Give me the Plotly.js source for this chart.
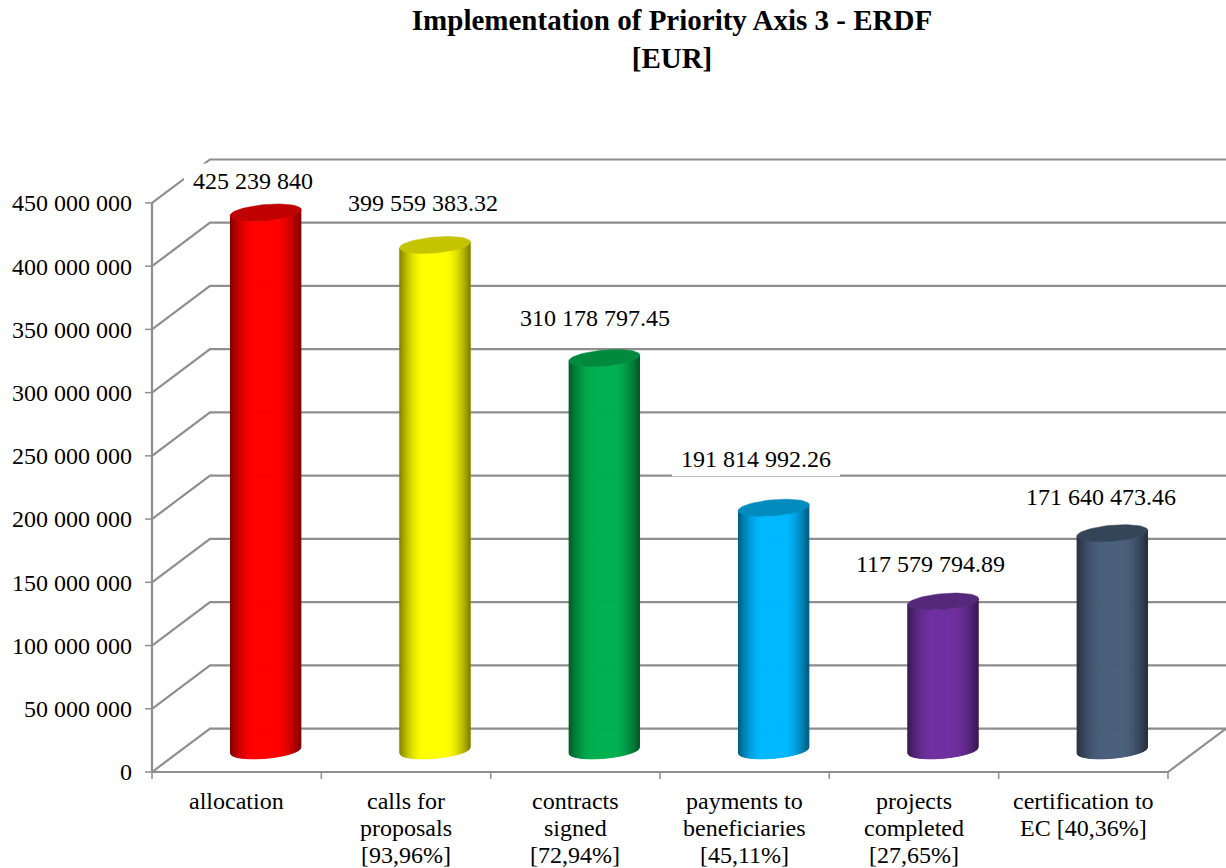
<!DOCTYPE html>
<html>
<head>
<meta charset="utf-8">
<script src="https://cdn.plot.ly/plotly-3.0.1.min.js"></script>
<style>html,body{margin:0;padding:0;background:#fff;overflow:hidden}#chart{width:1226px;height:868px}</style>
</head>
<body>
<div id="chart"></div>
<script>
// ---- data ----
const categoryLines = [
  ['allocation'],
  ['calls for', 'proposals', '[93,96%]'],
  ['contracts', 'signed', '[72,94%]'],
  ['payments to', 'beneficiaries', '[45,11%]'],
  ['projects', 'completed', '[27,65%]'],
  ['certification to', 'EC [40,36%]']
];
const values = [425239840, 399559383.32, 310178797.45, 191814992.26, 117579794.89, 171640473.46];
const valueLabels = ['425 239 840', '399 559 383.32', '310 178 797.45', '191 814 992.26', '117 579 794.89', '171 640 473.46'];
const tickValues = [0, 50000000, 100000000, 150000000, 200000000, 250000000, 300000000, 350000000, 400000000, 450000000];
const tickLabels = ['0', '50 000 000', '100 000 000', '150 000 000', '200 000 000', '250 000 000', '300 000 000', '350 000 000', '400 000 000', '450 000 000'];
const sideColors = [[255, 0, 0], [255, 255, 0], [0, 176, 80], [0, 184, 255], [112, 48, 160], [74, 96, 124]];
const capColors = ['#c00000', '#c4c400', '#008a3e', '#008cbf', '#55287c', '#344558'];

// ---- layout constants ----
const W = 1226, H = 868, L0 = 152, B0 = 772.5;          // origin of the front plane
const padL = 8, padB = 9, T = 155;                       // plot area reaches a little past the axes
const pxPerCat = 1016 / 6, pxPerVal = 63.28 / 50000000;
const xr = px => px / pxPerCat, yr = px => px / pxPerVal;
const depthX = xr(58), depthY = yr(43.5);
const xMax = (W - L0) / pxPerCat, yMax = (B0 - T) / pxPerVal;
const gridColor = '#8e8e8e', FONT = '"Liberation Serif","Times New Roman",serif', fs = 24;
const labelShift = [[16.3, 53.3], [17, 63.8], [19.7, 61.9], [11.3, 70.7], [16, 59.7], [17.7, 58.3]];
const labelBoxWidth = [138, 168, 168, 168, 168, 168];

const traces = [];
const line = (x, y, color, width) => ({
  type: 'scatter', mode: 'lines', x, y, cliponaxis: false, hoverinfo: 'skip', showlegend: false,
  line: { color, width, simplify: false }
});

// walls, floor and tick marks
const gx = [], gy = [];
tickValues.forEach(v => {
  gx.push(0, depthX, xMax, null);
  gy.push(v, v + depthY, v + depthY, null);
});
traces.push(line(gx, gy, gridColor, 2.2));
traces.push(line([0, 0], [0, tickValues[tickValues.length - 1]], gridColor, 2.2));
traces.push(line([0, 6, 6 + depthX], [0, 0, depthY], gridColor, 2.2));
const tx = [], ty = [];
tickValues.forEach(v => { tx.push(xr(-7), 0, null); ty.push(v, v, null); });
[0, 1, 2, 3, 4, 5, 6].forEach(c => { tx.push(c, c, null); ty.push(0, yr(-7), null); });
traces.push(line(tx, ty, gridColor, 1.5));

// white plates behind the value labels
values.forEach((v, i) => {
  const cx = i + 0.5 + xr(labelShift[i][0]), cy = v + yr(labelShift[i][1]), hw = xr(labelBoxWidth[i] / 2);
  traces.push(line([cx - hw, cx + hw], [cy, cy], '#ffffff', 35));
});

// cylinders
const N = 71, A = xr(35.2), Bm = yr(8), S = yr(3);
const edge = u => Bm * Math.sqrt(Math.max(0, 1 - u * u)) - S * u;
function shade(c, u) {
  const t = Math.abs(u);
  const k = t < 0.3 ? 1 : 1 - 0.5 * Math.pow((t - 0.3) / 0.7, 1.8);
  return 'rgb(' + c.map(ch => Math.round(ch * k)).join(',') + ')';
}
values.forEach((v, i) => {
  const cx = i + 0.5 + depthX / 2, y0 = depthY / 2, y1 = v + depthY / 2;
  for (let k = 0; k < N; k++) {
    const u0 = -1 + 2 * k / N, u1 = -1 + 2 * (k + 1) / N, um = (u0 + u1) / 2;
    const col = shade(sideColors[i], um);
    traces.push({
      type: 'scatter', mode: 'lines', fill: 'toself', fillcolor: col, hoverinfo: 'skip', showlegend: false,
      line: { color: col, width: 1 },
      x: [cx + A * u0, cx + A * u1, cx + A * u1, cx + A * u0, cx + A * u0],
      y: [y1 - edge(u0), y1 - edge(u1), y0 - edge(u1), y0 - edge(u0), y1 - edge(u0)]
    });
  }
  const ex = [], ey = [];
  for (let d = 0; d <= 360; d += 5) {
    const t = d * Math.PI / 180;
    ex.push(cx + (A + xr(0.3)) * Math.cos(t));
    ey.push(y1 - (Bm * Math.sin(t) - S * Math.cos(t)));
  }
  traces.push({
    type: 'scatter', mode: 'lines', fill: 'toself', fillcolor: capColors[i], hoverinfo: 'skip', showlegend: false,
    line: { color: capColors[i], width: 0.5 }, x: ex, y: ey
  });
});

// text
const annotations = values.map((v, i) => ({
  x: i + 0.5, y: v, xref: 'x', yref: 'y', xshift: labelShift[i][0], yshift: labelShift[i][1],
  text: valueLabels[i], showarrow: false, xanchor: 'center', yanchor: 'middle',
  font: { family: FONT, size: fs, color: '#000' }
}));
categoryLines.forEach((rows, i) => rows.forEach((txt, r) => annotations.push({
  x: i + 0.5, y: 0, xref: 'x', yref: 'y', yshift: -(29 + 27 * r), text: txt, showarrow: false,
  xanchor: 'center', yanchor: 'middle', font: { family: FONT, size: fs, color: '#000' }
})));

const layout = {
  width: W, height: H, autosize: false, showlegend: false,
  paper_bgcolor: '#fff', plot_bgcolor: '#fff',
  margin: { l: L0 - padL, r: 0, t: T, b: H - B0 - padB, pad: 0 },
  title: {
    text: '<b>Implementation of Priority Axis 3 - ERDF<br>[EUR]</b>',
    x: 672 / W, xanchor: 'center', xref: 'container', y: 1 - 30 / H, yanchor: 'top', yref: 'container',
    font: { family: FONT, size: 29, color: '#000' }
  },
  xaxis: {
    range: [xr(-padL), xMax], showgrid: false, zeroline: false, showline: false, showticklabels: false,
    ticks: '', fixedrange: true
  },
  yaxis: {
    range: [yr(-padB), yMax], showgrid: false, zeroline: false, showline: false,
    tickmode: 'array', tickvals: tickValues, ticktext: tickLabels, ticks: '',
    ticklabelstandoff: 11, tickfont: { family: FONT, size: fs, color: '#000' }, fixedrange: true
  },
  annotations
};
Plotly.newPlot('chart', traces, layout, { displayModeBar: false, staticPlot: true });
</script>
</body>
</html>
